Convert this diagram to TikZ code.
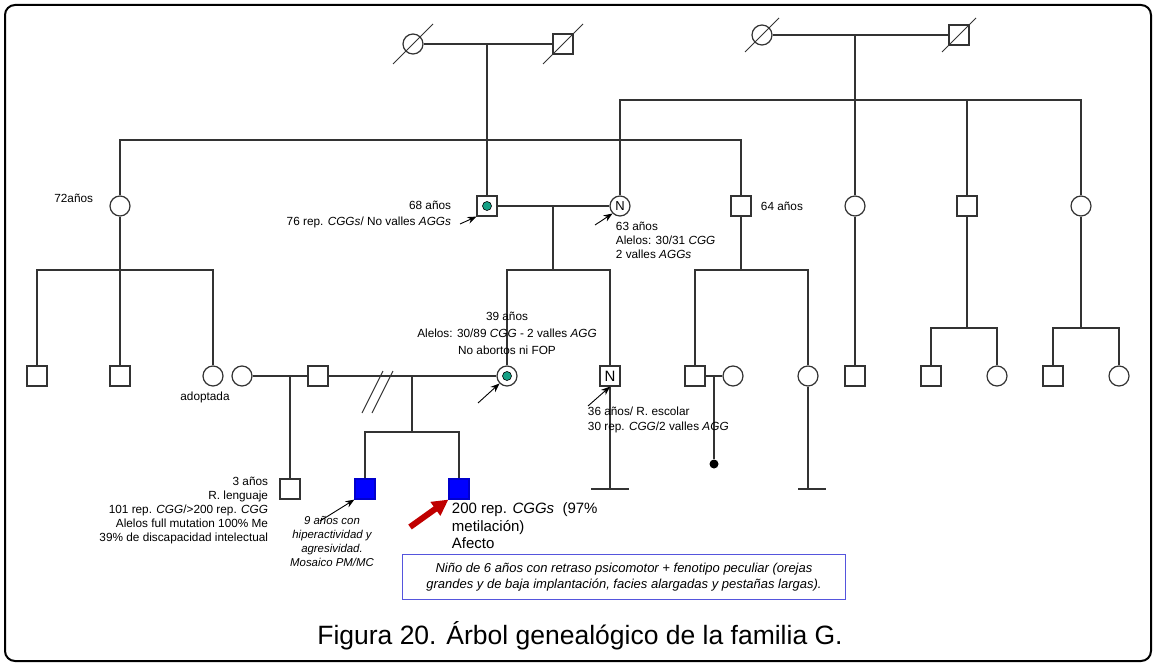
\documentclass[tikz,border=0pt]{standalone}
\usepackage{fontspec}
\setmainfont{Liberation Sans}
\usetikzlibrary{arrows.meta,calc}
\definecolor{lin}{HTML}{333333}
\definecolor{dotgreen}{HTML}{16A085}
\definecolor{boxblue}{HTML}{5555DD}
\definecolor{redarr}{HTML}{C00000}
\begin{document}
\begin{tikzpicture}[x=1pt,y=-1pt,line width=1.2pt,
  every node/.style={font=\fontsize{11.8}{14}\selectfont},
  male/.style={draw=lin,fill=white,rectangle,minimum size=20,inner sep=0},
  female/.style={draw=lin,fill=white,circle,minimum size=20,inner sep=0},
  carrier/.style={path picture={\fill[dotgreen,draw=black,line width=.6pt] (path picture bounding box.center) circle (4.5);}},
  affected/.style={male,fill=blue,draw=blue!80!black},
  ptr/.style={-{Stealth[length=9pt,width=7pt]},line width=.9pt,draw=black},
  endbar/.style={draw=lin}]
\useasboundingbox (0,0) rectangle (1156,666);
\draw[line width=2pt,rounded corners=10] (5,5) rectangle (1151,661);
\begin{scope}[draw=lin]
% generation I
\node[female] (g1a) at (413,44) {};
\node[male] (g1b) at (563,44) {};
\node[female] (g1c) at (762,35) {};
\node[male] (g1d) at (959,35) {};
\draw (g1a) -- (g1b); \draw (g1c) -- (g1d);
\foreach \n/\d in {g1a/20,g1b/20,g1c/17,g1d/17} {\draw[line width=1pt] ($(\n)+(-\d,\d)$) -- ($(\n)+(\d,-\d)$);}
\coordinate (u1) at (487,44); \coordinate (u2) at (855,35);
% generation II
\node[female] (p72) at (120,206) {};
\node[male,carrier] (p68) at (487,206) {};
\node[female,font=\fontsize{13}{14}\selectfont] (p63) at (620,206) {N};
\node[male] (p64) at (741,206) {};
\node[female] (q1) at (855,206) {};
\node[male] (q2) at (967,206) {};
\node[female] (q3) at (1081,206) {};
\coordinate (b1) at (487,140); \coordinate (b2) at (855,100);
\draw (u1) -- (p68);
\draw (p72) |- (b1) -| (p64);
\draw (u2) -- (q1);
\draw (p63) |- (b2) -| (q3);
\draw (q2) -- (q2 |- b2);
\draw (p68) -- (p63);
\coordinate (u3) at (553,206);
% generation III
\node[male] (c1) at (37,376) {};
\node[male] (c2) at (120,376) {};
\node[female] (c3) at (213,376) {};
\node[female] (w1) at (242,376) {};
\node[male] (h1) at (318,376) {};
\node[female,carrier] (cons) at (507,376) {};
\node[male,font=\fontsize{15}{16}\selectfont] (nN) at (610,376) {N};
\node[male] (s1) at (695,376) {};
\node[female] (s1w) at (733,376) {};
\node[female] (s2) at (808,376) {};
\node[male] (qs1) at (855,376) {};
\node[male] (r1) at (931,376) {};
\node[female] (r2) at (997,376) {};
\node[male] (r3) at (1053,376) {};
\node[female] (r4) at (1119,376) {};
\coordinate (b3) at (120,270); \coordinate (b4) at (553,270); \coordinate (b5) at (741,270);
\coordinate (b6) at (967,328); \coordinate (b7) at (1081,328);
\draw (p72) -- (c2); \draw (c1) |- (b3) -| (c3);
\draw (u3) -- (b4); \draw (cons) |- (b4) -| (nN);
\draw (p64) -- (b5); \draw (s1) |- (b5) -| (s2);
\draw (q1) -- (qs1);
\draw (q2) -- (b6); \draw (r1) |- (b6) -| (r2);
\draw (q3) -- (b7); \draw (r3) |- (b7) -| (r4);
\draw (w1) -- (h1); \draw (h1) -- (cons);
\draw (s1) -- (s1w);
\coordinate (u5) at (714,376);
\node[circle,fill=black,inner sep=0,minimum size=9] (d1) at (714,464) {};
\draw (u5) -- (d1);
\coordinate (e1) at (610,489); \coordinate (e2) at (808,489);
\draw (nN) -- (e1); \draw (s2) -- (e2);
\draw[endbar] (591,489) -- (629,489); \draw[endbar] (798,489) -- (826,489);
% divorce mark
\draw[line width=1pt] (362,413) -- (383,371); \draw[line width=1pt] (372,413) -- (393,371);
% generation IV
\node[male] (k1) at (290,489) {};
\node[affected] (a1) at (365,489) {};
\node[affected] (a2) at (459,489) {};
\coordinate (u6) at (290,376); \coordinate (u7) at (412,376); \coordinate (b8) at (412,432);
\draw (u6) -- (k1);
\draw (u7) -- (b8); \draw (a1) |- (b8) -| (a2);
\end{scope}
% arrows
\coordinate (t1) at (460,224); \coordinate (t2) at (595,225); \coordinate (t3) at (478,403);
\coordinate (t4) at (588,406); \coordinate (t5) at (320,521); \coordinate (t6) at (410,527);
\draw[ptr] (t1) -- (p68.south west);
\draw[ptr] (t2) -- (p63.south west);
\draw[ptr] (t3) -- (cons.south west);
\draw[ptr] (t4) -- (nN.south);
\draw[ptr] (t5) -- (a1.south west);
\draw[-{Triangle[length=16pt,width=16pt]},line width=6pt,draw=redarr,fill=redarr] (t6) -- (a2.south west);
% labels
\node[anchor=east] (l72) at (97,198) {72años};
\node[anchor=north east,align=right,font=\fontsize{11.8}{16}\selectfont] (l68) at (455,197) {68 años\\76 rep. \textit{CGGs}/ No valles \textit{AGGs}};
\node[anchor=north west,align=left] (l63) at (612,218) {63 años\\Alelos: 30/31 \textit{CGG}\\2 valles \textit{AGGs}};
\node[anchor=west] (l64) at (757,206) {64 años};
\node[anchor=south,align=center,font=\fontsize{11.8}{17}\selectfont] (lcons) at (507,359) {39 años\\Alelos: 30/89 \textit{CGG} - 2 valles \textit{AGG}\\No abortos ni FOP};
\node[anchor=north west,align=left,font=\fontsize{11.8}{15}\selectfont] (lN) at (584,403) {36 años/ R. escolar\\30 rep. \textit{CGG}/2 valles \textit{AGG}};
\node (lad) at (205,397) {adoptada};
\node[anchor=north east,align=right] (lk1) at (272,473) {3 años\\R. lenguaje\\101 rep. \textit{CGG}/>200 rep. \textit{CGG}\\Alelos full mutation 100\% Me\\39\% de discapacidad intelectual};
\node[anchor=north,align=center,font=\fontsize{11.4}{14}\itshape] (la1) at (332,512) {9 años con\\hiperactividad y\\agresividad.\\Mosaico PM/MC};
\node[anchor=north west,align=left,font=\fontsize{15}{17.5}\selectfont] (la2) at (448,499) {200 rep. \textit{CGGs}\ \ (97\%\\metilación)\\Afecto};
\node[draw=boxblue,line width=.8pt,minimum width=443,minimum height=45,align=center,font=\fontsize{13}{16}\itshape] (note) at (624,577) {Niño de 6 años con retraso psicomotor + fenotipo peculiar (orejas\\grandes y de baja implantación, facies alargadas y pestañas largas).};
\node[font=\fontsize{26.5}{30}\selectfont] (cap) at (580,636) {Figura 20. Árbol genealógico de la familia G.};
\end{tikzpicture}
\end{document}
